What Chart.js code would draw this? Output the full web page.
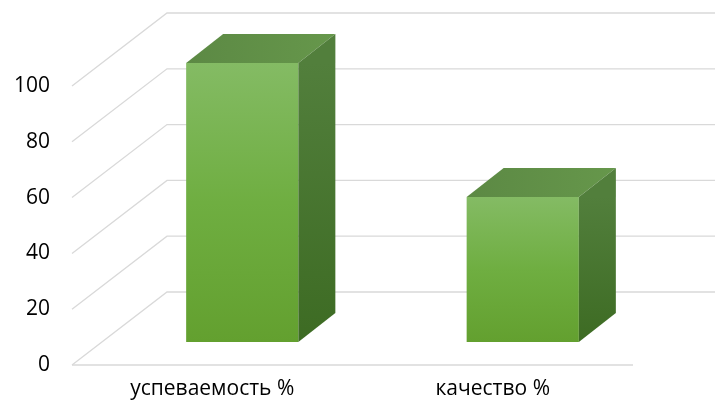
<!DOCTYPE html>
<html>
<head>
<meta charset="utf-8">
<script src="https://cdn.jsdelivr.net/npm/chart.js@4.4.1/dist/chart.umd.min.js"></script>
<style>
  html, body { margin: 0; padding: 0; background: #fff; }
  #wrap { width: 715px; height: 406px; }
</style>
</head>
<body>
<div id="wrap"><canvas id="barChart" width="715" height="406"></canvas></div>
<script>
const categories = ['успеваемость %', 'качество %'];
const values = [100, 52];
const tickValues = [0, 20, 40, 60, 80, 100];

// perspective of the 3D box (px)
const WALL_DX = 95, WALL_DY = 73;   // floor / side wall depth
const BAR_SHIFT_X = 30, BAR_SHIFT_Y = 23; // bar front face sits inside the floor
const BAR_DX = 37, BAR_DY = 29;     // bar depth
const GRID_COLOR = '#d9d9d9';

const walls3d = {
  id: 'walls3d',
  beforeDatasetsDraw(chart) {
    const { ctx, chartArea, scales } = chart;
    const y = scales.y;
    ctx.save();
    ctx.strokeStyle = GRID_COLOR;
    ctx.lineWidth = 1.3;
    tickValues.forEach(v => {
      const py = y.getPixelForValue(v);
      // side wall diagonal
      ctx.beginPath();
      ctx.moveTo(chartArea.left, py);
      ctx.lineTo(chartArea.left + WALL_DX, py - WALL_DY);
      // back wall line
      ctx.lineTo(chartArea.right + WALL_DX, py - WALL_DY);
      ctx.stroke();
    });
    // floor front edge
    ctx.beginPath();
    ctx.moveTo(chartArea.left, chartArea.bottom);
    ctx.lineTo(chartArea.right, chartArea.bottom);
    ctx.stroke();
    ctx.restore();

    // move bars into the depth of the floor
    ctx.save();
    ctx.translate(BAR_SHIFT_X, -BAR_SHIFT_Y);
  },
  afterDatasetsDraw(chart) {
    const { ctx } = chart;
    const meta = chart.getDatasetMeta(0);
    meta.data.forEach(bar => {
      const l = bar.x - bar.width / 2, r = bar.x + bar.width / 2;
      const t = bar.y, b = bar.base;
      // top face
      ctx.beginPath();
      ctx.moveTo(l, t);
      ctx.lineTo(l + BAR_DX, t - BAR_DY);
      ctx.lineTo(r + BAR_DX, t - BAR_DY);
      ctx.lineTo(r, t);
      ctx.closePath();
      const tg = ctx.createLinearGradient(l, 0, r + BAR_DX, 0);
      tg.addColorStop(0, '#5c8944');
      tg.addColorStop(1, '#66974b');
      ctx.fillStyle = tg;
      ctx.fill();
      // side face
      ctx.beginPath();
      ctx.moveTo(r, t);
      ctx.lineTo(r + BAR_DX, t - BAR_DY);
      ctx.lineTo(r + BAR_DX, b - BAR_DY);
      ctx.lineTo(r, b);
      ctx.closePath();
      const sg = ctx.createLinearGradient(0, t, 0, b);
      sg.addColorStop(0, '#527f3c');
      sg.addColorStop(1, '#3d6b23');
      ctx.fillStyle = sg;
      ctx.fill();
    });
    ctx.restore();
  }
};

const ctx = document.getElementById('barChart').getContext('2d');
new Chart(ctx, {
  type: 'bar',
  data: {
    labels: categories,
    datasets: [{
      data: values,
      backgroundColor(context) {
        const chart = context.chart;
        if (!chart.chartArea || !context.parsed) return '#70ad47';
        const yScale = chart.scales.y;
        const top = yScale.getPixelForValue(context.parsed.y);
        const bottom = yScale.getPixelForValue(0);
        const g = chart.ctx.createLinearGradient(0, top, 0, bottom);
        g.addColorStop(0, '#84bb64');
        g.addColorStop(0.5, '#6fae41');
        g.addColorStop(1, '#63a02f');
        return g;
      },
      borderWidth: 0,
      categoryPercentage: 1,
      barPercentage: 0.4
    }]
  },
  options: {
    responsive: false,
    animation: false,
    layout: { padding: { top: 86, right: 82, left: 0, bottom: 0 } },
    plugins: { legend: { display: false }, tooltip: { enabled: false } },
    scales: {
      x: {
        grid: { display: false, drawTicks: false },
        border: { display: false },
        ticks: {
          color: '#000',
          padding: 11,
          font: { family: 'Open Sans', size: 21 }
        },
        afterFit(s) { s.height = 41; }
      },
      y: {
        min: 0,
        max: 100,
        grid: { display: false, drawTicks: false },
        border: { display: false },
        ticks: {
          stepSize: 20,
          color: '#000',
          padding: 22,
          font: { family: 'Open Sans', size: 21 }
        },
        afterFit(s) { s.width = 72; }
      }
    }
  },
  plugins: [walls3d]
});
</script>
</body>
</html>
